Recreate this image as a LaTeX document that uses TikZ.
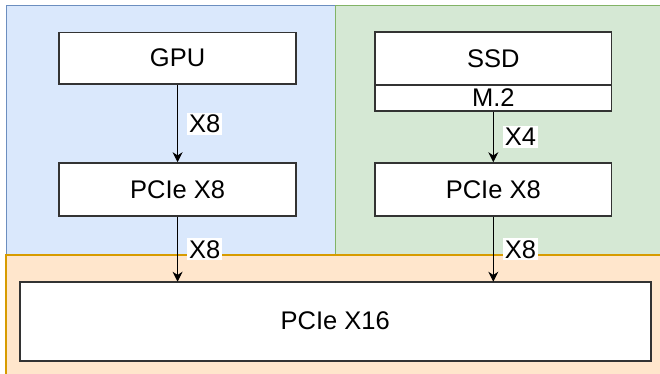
\documentclass[tikz,border=0pt]{standalone}
\usepackage{fontspec}
\setmainfont{Liberation Sans}
\usetikzlibrary{arrows.meta}
\definecolor{bluefill}{HTML}{DAE8FC}
\definecolor{bluedraw}{HTML}{6C8EBF}
\definecolor{greenfill}{HTML}{D5E8D4}
\definecolor{greendraw}{HTML}{82B366}
\definecolor{orangefill}{HTML}{FFE6CC}
\definecolor{orangedraw}{HTML}{D79B00}
\definecolor{boxdraw}{HTML}{333333}
\tikzset{
  box/.style={draw=boxdraw, line width=1.6pt, fill=white, minimum width=236.7pt, inner sep=0pt, font=\fontsize{25.5}{28}\selectfont},
  link/.style={draw=black, line width=1pt, -{Stealth[length=10pt,width=10pt]}},
  lbl/.style={fill=white, inner sep=2pt, anchor=west, font=\fontsize{25.5}{28}\selectfont},
}
\begin{document}
\begin{tikzpicture}[x=1pt,y=-1pt]
\useasboundingbox (0,0) rectangle (660,373);
\clip (0,0) rectangle (660,373);
% regions
\draw[fill=bluefill, draw=bluedraw, line width=1pt] (6,5) rectangle (335,255);
\draw[fill=greenfill, draw=greendraw, line width=1pt] (335,5) rectangle (665,255);
\draw[fill=orangefill, draw=orangedraw, line width=1.2pt] (6,255) rectangle (665,380);
% boxes
\node[box, minimum height=51.7pt] (gpu) at (177.6,58.2) {GPU};
\node[box, minimum height=53pt] (pl) at (177.6,189.5) {PCIe X8};
\node[box, minimum height=52.7pt] (ssd) at (493.3,58.6) {SSD};
\node[box, minimum height=25.7pt] (m2) at (493.3,97.9) {M.2};
\node[box, minimum height=53pt] (pr) at (493.3,189.5) {PCIe X8};
\node[box, minimum height=79pt, minimum width=631pt] (px) at (335.2,321.2) {PCIe X16};
\coordinate (xl) at (177.6,281.7);
\coordinate (xr) at (493.3,281.7);
% connectors
\draw[link] (gpu) -- node[lbl, xshift=9pt] (l1) {X8} (pl);
\draw[link] (m2) -- node[lbl, xshift=9pt] (l2) {X4} (pr);
\draw[link] (pl.south) -- node[lbl, xshift=9pt] (l3) {X8} (xl);
\draw[link] (pr.south) -- node[lbl, xshift=9pt] (l4) {X8} (xr);
\end{tikzpicture}
\end{document}
